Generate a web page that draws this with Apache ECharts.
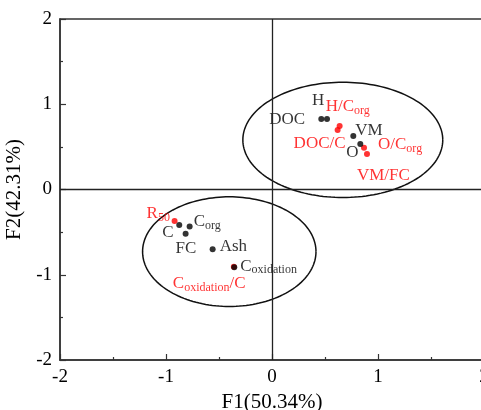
<!DOCTYPE html>
<html><head><meta charset="utf-8">
<script src="https://cdn.jsdelivr.net/npm/echarts@6/dist/echarts.min.js"></script>
<style>html,body{margin:0;padding:0;background:#fff}#c{width:481px;height:410px}</style>
</head><body><div id="c"></div>
<script>
// ---- data ----
const blackNames = ['H', 'DOC', 'VM', 'O', 'C', 'C_org', 'FC', 'Ash', 'C_oxidation'];
const blackF1 = [0.519, 0.465, 0.767, 0.833, -0.875, -0.777, -0.815, -0.560, -0.356];
const blackF2 = [0.827, 0.827, 0.627, 0.533, -0.416, -0.435, -0.518, -0.702, -0.911];
const redNames = ['H/C_org', 'DOC/C', 'O/C_org', 'VM/FC', 'R50', 'C_oxidation/C'];
const redF1 = [0.638, 0.619, 0.868, 0.896, -0.919, -0.360];
const redF2 = [0.745, 0.698, 0.489, 0.415, -0.369, -0.905];
const ellipseCx = [0.668, -0.403];
const ellipseCy = [0.582, -0.729];
const ellipseRx = [0.943, 0.818];
const ellipseRy = [0.676, 0.643];
const axisTicks = [-2, -1, 0, 1, 2];

// ---- label text & placement (styling) ----
const labelText = {
  'C_org': '{m|C}{s|org}',
  'C_oxidation': '{m|C}{s|oxidation}',
  'H/C_org': '{m|H/C}{s|org}',
  'O/C_org': '{m|O/C}{s|org}',
  'R50': '{m|R}{s|50}',
  'C_oxidation/C': '{m|C}{s|oxidation}{m|/C}'
};
const labelOffset = {
  'H': [-15, -18], 'DOC': [-52, 1], 'VM': [2, -6], 'O': [-14, 8],
  'C': [-17, 8], 'C_org': [4, -5], 'FC': [-10, 15], 'Ash': [7, -3], 'C_oxidation': [6, -1],
  'H/C_org': [-14, -19], 'DOC/C': [-44, 14], 'O/C_org': [14, -3], 'VM/FC': [-10, 21],
  'R50': [-28, -7], 'C_oxidation/C': [-61, 17]
};

const FONT = '"Liberation Serif", "Times New Roman", serif';
function rich(color) {
  return {
    m: { fontSize: 17, fontFamily: FONT, color: color, lineHeight: 20 },
    s: { fontSize: 12, fontFamily: FONT, color: color, lineHeight: 7, verticalAlign: 'bottom' }
  };
}
function pts(names, xs, ys) {
  return names.map((n, i) => ({ name: n, value: [xs[i], ys[i]], label: { offset: labelOffset[n] } }));
}
function scatterLabel(color) {
  return {
    show: true, position: 'inside', align: 'left', verticalAlign: 'middle',
    formatter: p => labelText[p.name] || ('{m|' + p.name + '}'),
    rich: rich(color)
  };
}
const axisCommon = {
  type: 'value', min: axisTicks[0], max: axisTicks[axisTicks.length - 1], interval: 1,
  axisLine: { show: true, onZero: false, lineStyle: { color: '#333', width: 1.5 } },
  axisTick: { show: true, inside: true, length: 6, lineStyle: { color: '#333', width: 1.2 } },
  minorTick: { show: true, splitNumber: 2, length: 3, lineStyle: { color: '#333', width: 1.2 } },
  splitLine: { show: false },
  axisLabel: { color: '#000', fontSize: 19, fontFamily: FONT, margin: 8 },
  nameLocation: 'middle',
  nameTextStyle: { color: '#000', fontSize: 21, fontFamily: FONT }
};

const chart = echarts.init(document.getElementById('c'), null, { renderer: 'canvas' });
chart.setOption({
  animation: false,
  backgroundColor: '#fff',
  grid: { left: 60, top: 19, right: -3, bottom: 50, show: true, borderColor: '#333', borderWidth: 1.5, outerBoundsMode: 'none' },
  xAxis: Object.assign({}, axisCommon, { name: 'F1(50.34%)', nameGap: 29 }),
  yAxis: Object.assign({}, axisCommon, { name: 'F2(42.31%)', nameGap: 30 }),
  series: [
    {
      type: 'custom', coordinateSystem: 'cartesian2d', z: 1, silent: true,
      data: ellipseCx.map((c, i) => [c, ellipseCy[i], ellipseRx[i], ellipseRy[i]]),
      encode: { x: 0, y: 1 },
      renderItem: (params, api) => {
        const c = api.coord([api.value(0), api.value(1)]);
        const s = api.size([api.value(2), api.value(3)]);
        const p = [];
        for (let i = 0; i <= 160; i++) {
          const t = i / 160 * 2 * Math.PI;
          p.push([c[0] + s[0] * Math.cos(t), c[1] - s[1] * Math.sin(t)]);
        }
        return { type: 'polyline', shape: { points: p }, style: { stroke: '#111', lineWidth: 1.5, fill: null } };
      },
      markLine: {
        silent: true, symbol: 'none', label: { show: false },
        lineStyle: { color: '#222', width: 1.3, type: 'solid' },
        data: [{ xAxis: 0 }, { yAxis: 0 }]
      }
    },
    {
      type: 'scatter', z: 3, symbolSize: 6, itemStyle: { color: '#ff0000' },
      data: pts(redNames, redF1, redF2), label: scatterLabel('#ff0000')
    },
    {
      type: 'scatter', z: 4, symbolSize: 6, itemStyle: { color: '#000' },
      data: pts(blackNames, blackF1, blackF2), label: scatterLabel('#000')
    }
  ]
});
</script></body></html>
